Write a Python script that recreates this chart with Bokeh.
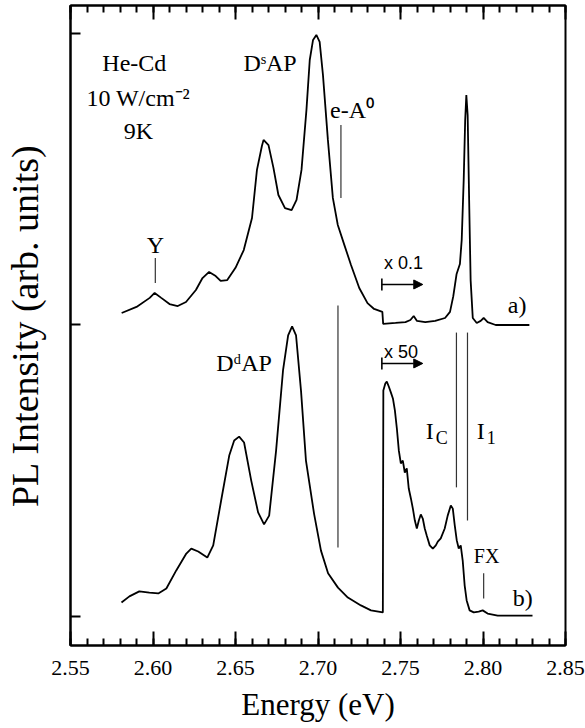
from bokeh.plotting import figure
from bokeh.models import (Range1d, FixedTicker, LinearAxis, Label, Arrow,
                          NormalHead, TeeHead)
from bokeh.embed import file_html
from bokeh.resources import INLINE

# ---- data: spectrum a) (upper, x0.1 above 2.74 eV), relative intensity ----
energy_a = [2.581, 2.590, 2.598, 2.601, 2.605, 2.610, 2.615, 2.620, 2.626, 2.630,
            2.634, 2.638, 2.641, 2.645, 2.650, 2.655, 2.660, 2.663, 2.666, 2.667,
            2.670, 2.673, 2.676, 2.680, 2.684, 2.687, 2.690, 2.693, 2.695, 2.697,
            2.699, 2.701, 2.703, 2.706, 2.709, 2.712, 2.716, 2.720, 2.725, 2.730,
            2.734, 2.739, 2.7395, 2.747, 2.753, 2.756, 2.758, 2.760, 2.765, 2.771,
            2.777, 2.780, 2.782, 2.784, 2.786, 2.7871, 2.7883, 2.7892, 2.7899, 2.7907,
            2.7916, 2.7925, 2.7938, 2.7962, 2.7986, 2.8004, 2.8028, 2.8077, 2.8281]
intensity_a = [0.041, 0.062, 0.093, 0.110, 0.093, 0.072, 0.065, 0.079, 0.120, 0.161,
               0.182, 0.168, 0.151, 0.154, 0.196, 0.257, 0.367, 0.532, 0.614, 0.635,
               0.617, 0.539, 0.446, 0.401, 0.394, 0.429, 0.532, 0.738, 0.909, 0.978,
               0.995, 0.971, 0.858, 0.635, 0.436, 0.343, 0.274, 0.206, 0.127, 0.075,
               0.055, 0.045, 0.004, 0.007, 0.010, 0.017, 0.031, 0.014, 0.010, 0.014,
               0.024, 0.045, 0.099, 0.175, 0.209, 0.292, 0.497, 0.703, 0.789, 0.720,
               0.429, 0.154, 0.024, 0.007, 0.014, 0.024, 0.010, 0.000, 0.000]

# ---- data: spectrum b) (lower, x50 above 2.74 eV), relative intensity ----
energy_b = [2.5809, 2.5857, 2.5917, 2.5978, 2.6032, 2.6081, 2.6141, 2.6202, 2.6232, 2.6274,
            2.6329, 2.6365, 2.6413, 2.6462, 2.6492, 2.6522, 2.6552, 2.6595, 2.6637, 2.6673,
            2.6704, 2.6746, 2.6788, 2.6819, 2.6843, 2.6867, 2.6897, 2.6927, 2.6976, 2.7018,
            2.7061, 2.7121, 2.7181, 2.7260, 2.7321, 2.7393, 2.7396, 2.7408, 2.7417, 2.7429,
            2.7442, 2.7454, 2.7466, 2.7478, 2.7490, 2.7502, 2.7514, 2.7526, 2.7538, 2.7550,
            2.7563, 2.7575, 2.7587, 2.7599, 2.7611, 2.7623, 2.7635, 2.7647, 2.7659, 2.7677,
            2.7696, 2.7714, 2.7726, 2.7744, 2.7768, 2.7786, 2.7805, 2.7817, 2.7829, 2.7841,
            2.7853, 2.7865, 2.7877, 2.7889, 2.7901, 2.7919, 2.7944, 2.7974, 2.7998, 2.8028,
            2.8089, 2.8300]
intensity_b = [0.048, 0.069, 0.086, 0.082, 0.079, 0.096, 0.158, 0.216, 0.233, 0.223,
               0.202, 0.244, 0.398, 0.552, 0.604, 0.617, 0.597, 0.467, 0.357, 0.316,
               0.346, 0.569, 0.844, 0.964, 0.995, 0.964, 0.775, 0.535, 0.353, 0.226,
               0.148, 0.099, 0.065, 0.038, 0.021, 0.014, 0.775, 0.799, 0.806, 0.789,
               0.768, 0.748, 0.707, 0.645, 0.569, 0.525, 0.535, 0.494, 0.508, 0.439,
               0.405, 0.370, 0.329, 0.302, 0.329, 0.350, 0.336, 0.302, 0.278, 0.244,
               0.233, 0.244, 0.257, 0.268, 0.302, 0.346, 0.381, 0.370, 0.312, 0.261,
               0.233, 0.244, 0.192, 0.106, 0.055, 0.021, 0.014, 0.017, 0.021, 0.010,
               0.003, 0.003]

offset_a = 1.0
offset_b = 0.0

# vertical marker lines (energy, bottom, top)
marker_energy = [2.6014, 2.7139, 2.7121, 2.7839, 2.7906, 2.8004]
marker_bottom = [1.144, 1.436, 0.237, 0.443, 0.329, 0.062]
marker_top = [1.230, 1.686, 1.067, 0.974, 0.974, 0.148]

x_ticks = [2.55, 2.6, 2.65, 2.7, 2.75, 2.8, 2.85]
x_tick_labels = ["2.55", "2.60", "2.65", "2.70", "2.75", "2.80", "2.85"]
x_minor_ticks = [round(2.55 + 0.01 * i, 2) for i in range(31)]
y_ticks = [0, 1, 2]

SERIF = "Liberation Serif"
SANS = "Liberation Sans"

p = figure(width=585, height=728,
           x_range=Range1d(2.55, 2.85), y_range=Range1d(-0.0995, 2.096),
           output_backend="svg", toolbar_location=None,
           min_border_left=69, min_border_right=20,
           min_border_top=5, min_border_bottom=83)
p.xgrid.visible = False
p.ygrid.visible = False
p.background_fill_color = "white"
p.border_fill_color = "white"
p.outline_line_color = "black"
p.outline_line_width = 2

xt = FixedTicker(ticks=x_ticks, minor_ticks=x_minor_ticks)

xa = p.xaxis[0]
xa.ticker = xt
xa.major_label_overrides = dict(zip(x_ticks, x_tick_labels))
xa.major_tick_in = 14
xa.major_tick_out = 0
xa.minor_tick_in = 7
xa.minor_tick_out = 0
xa.major_tick_line_color = "black"
xa.minor_tick_line_color = "black"
xa.major_tick_line_width = 2
xa.minor_tick_line_width = 2
xa.axis_line_width = 2
xa.major_label_text_font = SERIF
xa.major_label_text_font_size = "22px"
xa.major_label_text_color = "black"
xa.major_label_standoff = 15
xa.axis_label = "Energy (eV)"
xa.axis_label_text_font = SERIF
xa.axis_label_text_font_size = "31px"
xa.axis_label_text_font_style = "normal"
xa.axis_label_text_color = "black"
xa.axis_label_standoff = 9

ya = p.yaxis[0]
ya.ticker = FixedTicker(ticks=y_ticks, minor_ticks=[])
ya.major_tick_in = 10
ya.major_tick_out = 0
ya.major_tick_line_width = 2
ya.axis_line_width = 2
ya.major_label_text_font_size = "1px"
ya.major_label_text_color = None
ya.major_label_standoff = 0
ya.axis_label = "PL Intensity (arb. units)"
ya.axis_label_text_font = SERIF
ya.axis_label_text_font_size = "38px"
ya.axis_label_text_font_style = "normal"
ya.axis_label_text_color = "black"
ya.axis_label_standoff = 25

top = LinearAxis(ticker=xt, major_label_text_font_size="1px", major_label_text_color=None,
                 major_label_standoff=0,
                 major_tick_in=14, major_tick_out=0, minor_tick_in=7, minor_tick_out=0,
                 major_tick_line_color="black", minor_tick_line_color="black",
                 axis_line_width=2, major_tick_line_width=2, minor_tick_line_width=2)
p.add_layout(top, "above")

# spectra
p.line(energy_a, [v + offset_a for v in intensity_a],
       line_color="black", line_width=1.8)
p.line(energy_b, [v + offset_b for v in intensity_b],
       line_color="black", line_width=1.8)

# marker lines
p.segment(x0=marker_energy, y0=marker_bottom, x1=marker_energy, y1=marker_top,
          line_color="#333333", line_width=1.2)

# arrows (x0.1 and x50 scale changes)
for ya_ in [1.139, 0.868]:
    p.add_layout(Arrow(x_start=2.7387, y_start=ya_, x_end=2.7635, y_end=ya_,
                       line_width=1.6, line_color="black",
                       start=TeeHead(size=12, line_width=1.6),
                       end=NormalHead(size=9, fill_color="black", line_color="black")))

def lab(x, y, text, size="24px", font=SERIF, align="left", xo=0, yo=0):
    p.add_layout(Label(x=x, y=y, text=text, text_font=font, text_font_size=size,
                       text_align=align, text_baseline="alphabetic",
                       text_color="black", x_offset=xo, y_offset=yo))

lab(2.5887, 1.900, "He-Cd", align="center")
lab(2.5911, 1.780, "10 W/cm\u207b\u00b2", align="center")
lab(2.5911, 1.664, "9K", align="center")
lab(2.6710, 1.900, "D\u02e2AP", align="center")
lab(2.7206, 1.736, "e-A\u2070", align="center")
lab(2.6014, 1.276, "Y", align="center")
lab(2.7400, 1.211, "x 0.1", size="18px", font=SANS)
lab(2.8150, 1.067, "a)")
lab(2.7400, 0.906, "x 50", size="18px", font=SANS)
lab(2.6552, 0.871, "D\u1d48AP", align="center")
lab(2.7653, 0.638, "I")
lab(2.7653, 0.638, "C", size="18px", xo=10, yo=-7)
lab(2.7962, 0.638, "I")
lab(2.7962, 0.638, "1", size="18px", xo=10, yo=-7)
lab(2.7944, 0.206, "FX", size="20px")
lab(2.8180, 0.065, "b)")

open("out.html", "w").write(file_html(p, INLINE))
